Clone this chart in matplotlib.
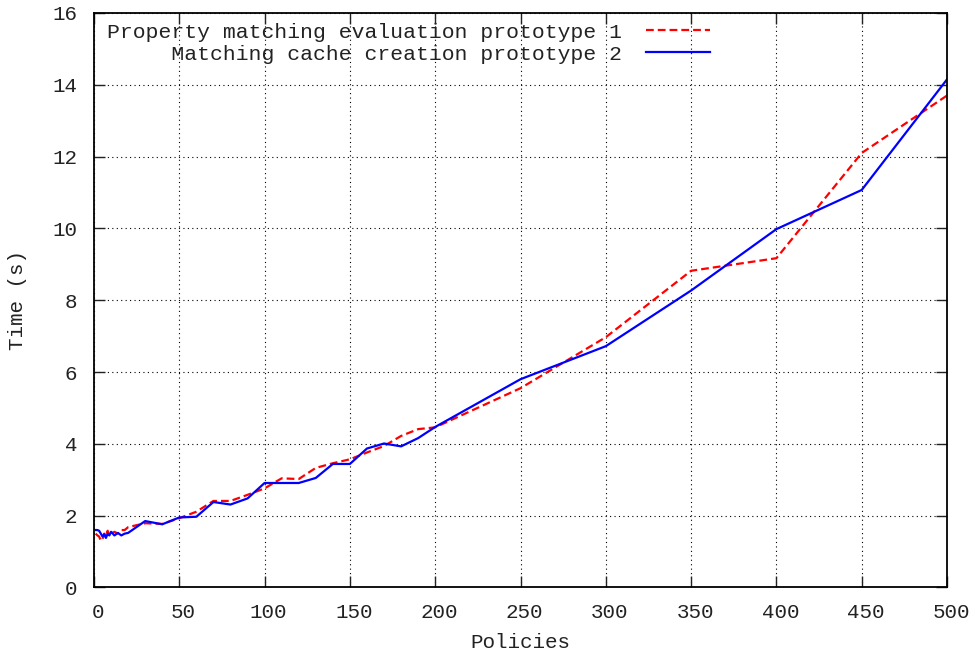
import matplotlib.pyplot as plt
from matplotlib.transforms import ScaledTranslation

# policies (x) and times (s)
x_red = [1, 2, 3, 4, 5, 6, 7, 8, 9, 10, 12, 14, 16, 18, 20, 30, 40, 50, 60, 70, 80, 90,
         100, 110, 120, 130, 140, 150, 160, 170, 180, 190, 200, 250, 300, 350, 400, 450, 500]
y_red = [1.5, 1.45, 1.42, 1.3, 1.35, 1.5, 1.42, 1.58, 1.45, 1.5, 1.55, 1.5, 1.6, 1.6, 1.68,
         1.79, 1.77, 1.93, 2.11, 2.41, 2.41, 2.58, 2.76, 3.04, 3.02, 3.33, 3.46, 3.57, 3.76,
         3.94, 4.22, 4.41, 4.46, 5.55, 6.97, 8.82, 9.17, 12.1, 13.7]

x_blue = [1, 2, 3, 4, 5, 6, 7, 8, 9, 10, 12, 14, 16, 18, 20, 30, 40, 50, 60, 70, 80, 90,
          100, 110, 120, 130, 140, 150, 160, 170, 180, 190, 200, 250, 300, 350, 400, 450, 500]
y_blue = [1.6, 1.6, 1.58, 1.5, 1.42, 1.48, 1.38, 1.5, 1.45, 1.55, 1.45, 1.52, 1.45, 1.5, 1.52,
          1.85, 1.76, 1.95, 1.97, 2.38, 2.31, 2.48, 2.91, 2.91, 2.91, 3.05, 3.44, 3.44, 3.87,
          4.01, 3.93, 4.16, 4.47, 5.8, 6.72, 8.27, 9.98, 11.07, 14.15]

labels = ["Property matching evaluation prototype 1",
          "Matching cache creation prototype 2"]

plt.rcParams['font.family'] = ['Liberation Mono', 'DejaVu Sans Mono']
plt.rcParams['font.size'] = 15
plt.rcParams['text.color'] = '#222222'
plt.rcParams['axes.labelcolor'] = '#222222'

fig = plt.figure(figsize=(9.76, 6.54), dpi=100)
ax = fig.add_axes([0.0963, 0.1017, 0.874, 0.8785])

# pad so labels right-align in monospace like gnuplot's key
width = max(len(s) for s in labels)
ax.plot(x_red, y_red, color='#ff0000', lw=1.6, dashes=(3.5, 1.8), label=labels[0].rjust(width))
ax.plot(x_blue, y_blue, color='#0000ff', lw=1.6, label=labels[1].rjust(width))

ax.set_xlim(0, 500)
ax.set_ylim(0, 16)
ax.set_xticks(range(0, 501, 50))
ax.set_yticks(range(0, 17, 2))
ax.tick_params(direction='in', length=8, width=1, top=True, right=True, pad=12,
               colors='#222222', labelsize=15)
ax.tick_params(axis='x', pad=11)
ax.grid(True, color='black', lw=0.8, linestyle=(0, (1, 3)))
for s in ax.spines.values():
    s.set_linewidth(1.3)

# gnuplot puts x labels a few px right of the tick
shift = ScaledTranslation(4 / 100, 0, fig.dpi_scale_trans)
for lab in ax.get_xticklabels():
    lab.set_transform(lab.get_transform() + shift)

ax.set_xlabel("Policies", labelpad=8)
ax.set_ylabel("Time (s)", labelpad=18)

ax.legend(loc='upper left', bbox_to_anchor=(13 / 853, 1 - 10 / 574), frameon=False,
          markerfirst=False, handlelength=3.0, handletextpad=1.1, labelspacing=0.12,
          borderaxespad=0, borderpad=0, fontsize=15.4)

fig.savefig("out.png", dpi=100)
